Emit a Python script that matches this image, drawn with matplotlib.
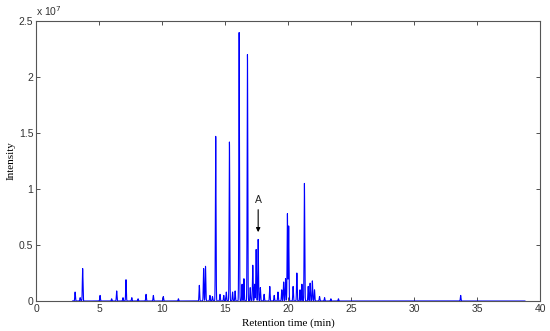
import matplotlib
matplotlib.use('Agg')
import matplotlib.pyplot as plt
import numpy as np

# peak list: retention time (min), intensity (x 1e7)
peak_times = [3.1, 3.5, 3.7, 5.08, 6.0, 6.4, 6.9, 7.14, 7.6, 8.1, 8.73, 9.31, 10.1, 11.3,
              12.96, 13.3, 13.45, 13.8, 14.0, 14.26, 14.6, 14.9, 15.1, 15.35, 15.6, 15.8,
              16.12, 16.35, 16.5, 16.78, 17.0, 17.2, 17.35, 17.47, 17.63, 17.8, 18.1,
              18.55, 18.9, 19.2, 19.5, 19.65, 19.8, 19.95, 20.05, 20.4, 20.7, 20.95,
              21.1, 21.3, 21.6, 21.75, 21.93, 22.1, 22.5, 22.9, 23.4, 24.0, 33.7]
peak_heights = [0.08, 0.03, 0.29, 0.05, 0.02, 0.09, 0.03, 0.19, 0.03, 0.02, 0.06, 0.05, 0.04, 0.02,
                0.14, 0.29, 0.31, 0.05, 0.04, 1.47, 0.06, 0.05, 0.08, 1.42, 0.08, 0.09,
                2.40, 0.15, 0.20, 2.20, 0.12, 0.32, 0.15, 0.46, 0.55, 0.12, 0.06,
                0.13, 0.05, 0.08, 0.10, 0.17, 0.20, 0.78, 0.67, 0.13, 0.25, 0.10,
                0.15, 1.05, 0.13, 0.16, 0.18, 0.10, 0.04, 0.03, 0.02, 0.02, 0.05]

t_start, t_end = 2.9, 38.8

# render the trace from the peak list
t = np.linspace(t_start, t_end, 12000)
trace = np.zeros_like(t)
for pt, ph in zip(peak_times, peak_heights):
    trace += ph * 1e7 * np.exp(-0.5 * ((t - pt) / 0.025) ** 2)

plt.rcParams['font.family'] = ['Liberation Sans', 'DejaVu Sans']
fig = plt.figure(figsize=(5.5, 3.31), dpi=100)
ax = fig.add_axes([0.0655, 0.0906, 0.9164, 0.846])
ax.plot(t, trace, color='#0000ff', lw=0.8)

ax.set_xlim(0, 40)
ax.set_ylim(0, 2.5e7)
ax.set_xticks(np.arange(0, 41, 5))
ax.set_yticks(np.arange(0, 2.51e7, 0.5e7))
ax.set_yticklabels(['0', '0.5', '1', '1.5', '2', '2.5'])
ax.tick_params(direction='in', length=3, width=0.6, labelsize=7.5, colors='#333333',
               top=True, right=True, pad=2)
for s in ax.spines.values():
    s.set_linewidth(0.8)
    s.set_color('#555555')

ax.text(0.0, 1.012, r'x 10$^{7}$', transform=ax.transAxes, fontsize=7.5,
        ha='left', va='bottom', color='#333333')

ax.set_xlabel('Retention time (min)', family='Liberation Serif', fontsize=8, labelpad=3)
ax.set_ylabel('Intensity', family='Liberation Serif', fontsize=8, labelpad=2)

# annotation for peak A
ax.annotate('', xy=(17.63, 0.59e7), xytext=(17.63, 0.84e7),
            arrowprops=dict(arrowstyle='-|>', color='black', lw=0.8, mutation_scale=6))
ax.text(17.63, 0.86e7, 'A', ha='center', va='bottom', fontsize=7.5, color='#222222')

fig.savefig('out.png', dpi=100)
